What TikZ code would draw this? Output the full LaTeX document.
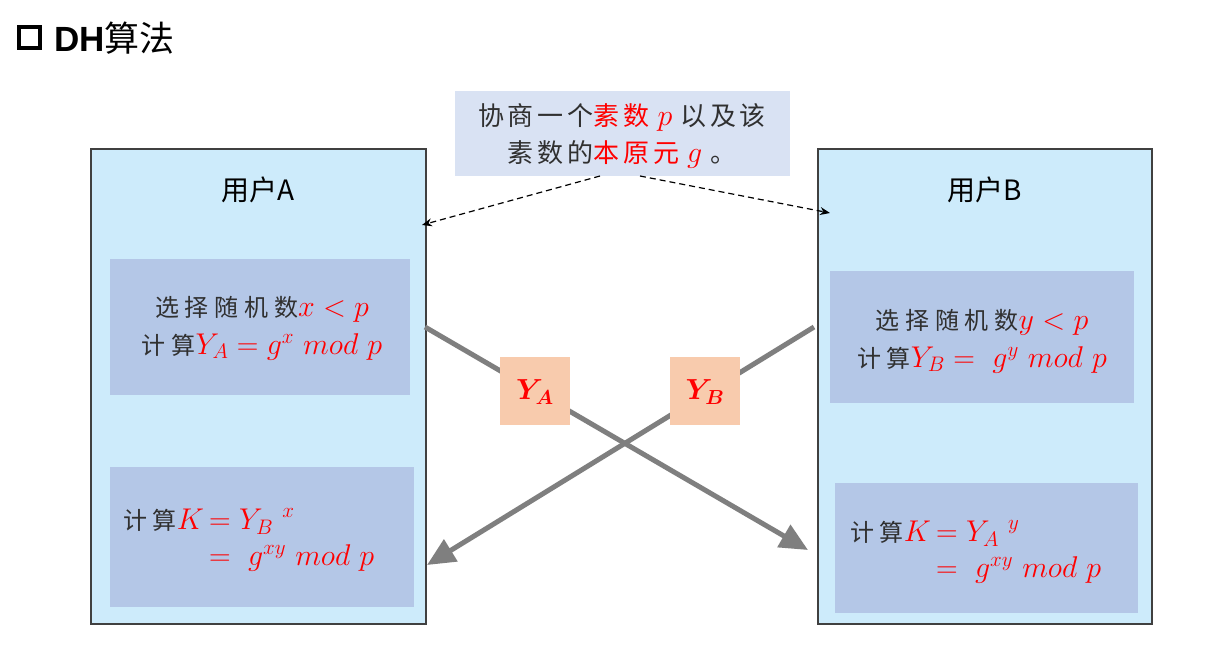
\RequirePackage{fix-cm}
\documentclass[tikz,border=0pt]{standalone}
\usepackage{fontspec}
\usepackage{amsmath,bm}
\newfontfamily\cjk{Noto Sans CJK SC}
\newfontfamily\cjkw[LetterSpace=24]{Noto Sans CJK SC}
\newfontfamily\cjkt[LetterSpace=15]{Noto Sans CJK SC}
\newfontfamily\titlefont{Liberation Sans}
\usetikzlibrary{arrows.meta}
\definecolor{outerfill}{HTML}{CDEBFB}
\definecolor{innerfill}{HTML}{B4C7E7}
\definecolor{topfill}{HTML}{D9E2F3}
\definecolor{peach}{HTML}{F8CBAD}
\definecolor{arrowgray}{HTML}{7F7F7F}
\definecolor{txt}{HTML}{303030}
\definecolor{borderc}{HTML}{404040}
\definecolor{red0}{HTML}{FF0000}
\tikzset{
  outerbox/.style={draw=borderc, line width=1.5pt, fill=outerfill, anchor=north west, inner sep=0pt},
  innerbox/.style={fill=innerfill, anchor=north west, inner sep=0pt},
  valbox/.style={fill=peach, anchor=north west, inner sep=0pt, minimum width=70pt, minimum height=68pt},
  grayarrow/.style={draw=arrowgray, line width=5pt, -{Triangle[length=28pt,width=25pt]}},
  dasharrow/.style={draw=black, line width=1.2pt, dash pattern=on 6pt off 4pt, -{Stealth[length=10pt,width=8pt]}},
  body/.style={font=\fontsize{24}{38}\selectfont, text=txt, inner sep=0pt},
}
\newcommand{\rd}[1]{\textcolor{red0}{#1}}
\newcommand{\mth}[1]{{\fontsize{30}{38}\selectfont\color{red0}$#1$}}
\begin{document}
\begin{tikzpicture}[x=1pt,y=-1pt]
\useasboundingbox (0,0) rectangle (1216,656);
\fill[white] (0,0) rectangle (1216,656);
% title
\node[draw=black, line width=4.5pt, minimum size=21pt, inner sep=0pt] (bullet) at (29.5,37.5) {};
\node[anchor=west, inner sep=0pt, font=\fontsize{35}{40}\selectfont] (title) at (54,38)
  {{\titlefont\bfseries DH}{\cjk 算法}};
% outer boxes
\node[outerbox, minimum width=335pt, minimum height=475pt] (A) at (90,148) {};
\node[outerbox, minimum width=334pt, minimum height=475pt] (B) at (817,148) {};
\node[font=\fontsize{28}{30}\selectfont\cjk, text=black] (userA) at (258,190) {用户A};
\node[font=\fontsize{28}{30}\selectfont\cjk, text=black] (userB) at (985,190) {用户B};
% top box
\node[fill=topfill, anchor=north west, minimum width=335pt, minimum height=85pt, inner sep=0pt] (top) at (455,91) {};
\node[body, font=\fontsize{26}{37}\selectfont, align=center] (toptext) at (622,136)
  {{\cjkt 协商一个\rd{素数}} \mth{p} {\cjkt 以及该}\\ {\cjkt 素数的\rd{本原元}} \mth{g} {\cjkt 。}};
% inner boxes
\node[innerbox, minimum width=300pt, minimum height=136pt] (A1) at (110,259) {};
\node[innerbox, minimum width=304pt, minimum height=140pt] (A2) at (110,467) {};
\node[innerbox, minimum width=304pt, minimum height=132pt] (B1) at (830,271) {};
\node[innerbox, minimum width=303pt, minimum height=130pt] (B2) at (835,483) {};
\node[body, align=center] (A1t) at (262,328)
  {{\cjkw 选择随机数}\mth{x<p}\\ {\cjkw 计算}\mth{Y_A=g^x\ mod\ p}};
\node[body, align=center] (B1t) at (982,341)
  {{\cjkw 选择随机数}\mth{y<p}\\ {\cjkw 计算}\mth{Y_B=\ g^y\ mod\ p}};
\node[body, anchor=west] (A2t) at (123,540)
  {\begin{tabular}{@{}r@{}l@{}}{\cjkw 计算}\mth{K} & \mth{\,={Y_B}^{\ x}}\\[-2pt] & \mth{\,=\ g^{xy}\ mod\ p}\end{tabular}};
\node[body, anchor=west] (B2t) at (850,552)
  {\begin{tabular}{@{}r@{}l@{}}{\cjkw 计算}\mth{K} & \mth{\,={Y_A}^{\ y}}\\[-2pt] & \mth{\,=\ g^{xy}\ mod\ p}\end{tabular}};
% connector endpoints
\coordinate (a1s) at (425,327);
\coordinate (a1e) at (808,550);
\coordinate (a2s) at (814,327);
\coordinate (a2e) at (427,565);
\coordinate (d1s) at (600,176);
\coordinate (d1e) at (422,225);
\coordinate (d2s) at (640,176);
\coordinate (d2e) at (830,213);
\draw[grayarrow] (a1s) -- (a1e);
\draw[grayarrow] (a2s) -- (a2e);
\draw[dasharrow] (d1s) -- (d1e);
\draw[dasharrow] (d2s) -- (d2e);
% value boxes
\node[valbox] (YA) at (500,357) {};
\node[valbox] (YB) at (670,357) {};
\node[font=\fontsize{29}{30}\selectfont, text=red0] (YAt) at (535,392) {$\bm{Y_A}$};
\node[font=\fontsize{29}{30}\selectfont, text=red0] (YBt) at (705,392) {$\bm{Y_B}$};
\end{tikzpicture}
\end{document}
